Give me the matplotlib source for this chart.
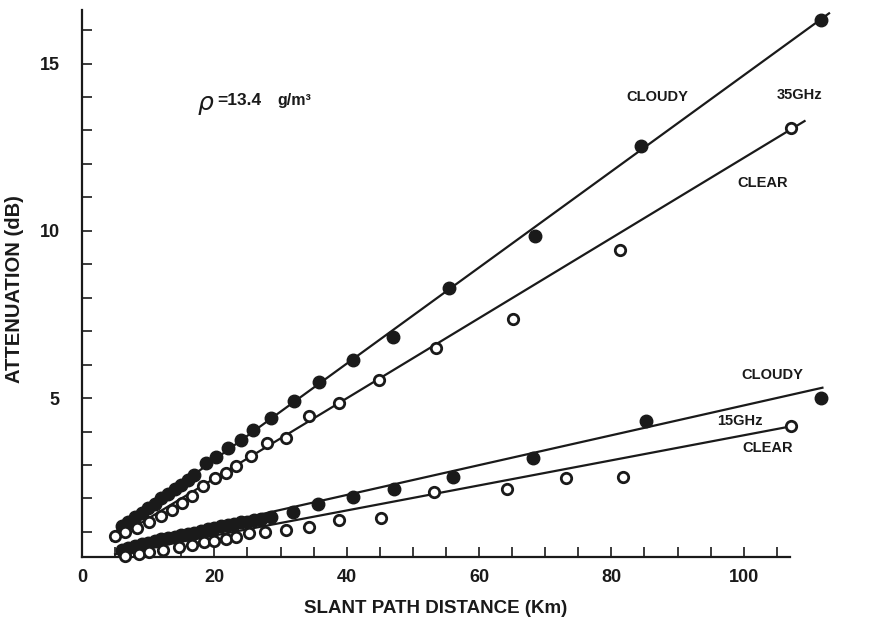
import matplotlib
matplotlib.use("Agg")
import matplotlib.pyplot as plt
from matplotlib.ticker import MultipleLocator, FixedLocator

plt.rcParams['font.family'] = ['Liberation Sans', 'DejaVu Sans']

# 35 GHz, cloudy (filled)
cloudy35_x = [6, 7, 8, 9, 10, 11, 12, 13, 14, 15, 16, 17, 18.8, 20.3, 22.1, 24.1, 25.9,
              28.6, 32.1, 35.8, 41, 47, 55.5, 68.5, 84.5, 111.7]
cloudy35_y = [1.18, 1.3, 1.44, 1.57, 1.72, 1.84, 2.0, 2.13, 2.28, 2.4, 2.56, 2.7, 3.07, 3.25,
              3.5, 3.76, 4.06, 4.4, 4.9, 5.49, 6.15, 6.84, 8.3, 9.85, 12.54, 16.3]
# 35 GHz, clear (open)
clear35_x = [5, 6.5, 8.3, 10.2, 12, 13.6, 15.1, 16.6, 18.3, 20.1, 21.8, 23.3, 25.5, 27.9,
             30.9, 34.3, 38.9, 44.9, 53.5, 65.1, 81.3, 107.2]
clear35_y = [0.88, 1.0, 1.13, 1.3, 1.48, 1.66, 1.86, 2.06, 2.38, 2.62, 2.77, 2.98, 3.28, 3.67,
             3.82, 4.45, 4.85, 5.55, 6.5, 7.37, 9.43, 13.07]
# 15 GHz, cloudy (filled)
cloudy15_x = [6, 7, 8, 9, 10, 11, 12, 13, 14, 15, 16, 17, 18, 19, 20, 21, 22, 23, 24, 25,
              26, 27, 28.6, 31.9, 35.7, 40.9, 47.1, 56, 68.2, 85.2, 111.7]
cloudy15_y = [0.47, 0.52, 0.57, 0.63, 0.67, 0.72, 0.78, 0.82, 0.85, 0.91, 0.95, 0.98, 1.04,
              1.08, 1.11, 1.17, 1.2, 1.23, 1.29, 1.31, 1.37, 1.4, 1.46, 1.61, 1.82, 2.03,
              2.27, 2.63, 3.22, 4.33, 5.01]
# 15 GHz, clear (open)
clear15_x = [6.5, 8.6, 10.2, 12.3, 14.6, 16.6, 18.5, 20, 21.7, 23.3, 25.3, 27.6, 30.9, 34.3,
             38.9, 45.2, 53.2, 64.3, 73.2, 81.8, 107.2]
clear15_y = [0.27, 0.33, 0.39, 0.45, 0.55, 0.6, 0.69, 0.72, 0.78, 0.84, 0.96, 0.99, 1.07, 1.16,
             1.35, 1.43, 2.18, 2.27, 2.6, 2.63, 4.18]

# fitted straight lines (end points)
fit_cloudy35_x = [4.5, 112.9]
fit_cloudy35_y = [0.93, 16.5]
fit_clear35_x = [4.5, 109.2]
fit_clear35_y = [0.74, 13.28]
fit_cloudy15_x = [5.6, 111.9]
fit_cloudy15_y = [0.57, 5.31]
fit_clear15_x = [5.0, 106.2]
fit_clear15_y = [0.33, 4.12]

x_major = [0, 20, 40, 60, 80, 100]
y_major = [5, 10, 15]

fig = plt.figure(figsize=(8.72, 6.17), dpi=100)
ax = fig.add_axes([82/872, 1-557/617, (790-82)/872, (557-10)/617])

lc = '#1a1a1a'
lw = 1.6
for fx, fy in [(fit_cloudy35_x, fit_cloudy35_y), (fit_clear35_x, fit_clear35_y),
               (fit_cloudy15_x, fit_cloudy15_y), (fit_clear15_x, fit_clear15_y)]:
    ax.plot(fx, fy, color=lc, lw=lw, clip_on=False, zorder=2)

ax.plot(cloudy35_x, cloudy35_y, 'o', ms=9, color=lc, mec=lc, clip_on=False, zorder=3)
ax.plot(cloudy15_x, cloudy15_y, 'o', ms=9, color=lc, mec=lc, clip_on=False, zorder=3)
ax.plot(clear35_x, clear35_y, 'o', ms=7.5, mfc='white', mec=lc, mew=2.0, clip_on=False, zorder=3)
ax.plot(clear15_x, clear15_y, 'o', ms=7.5, mfc='white', mec=lc, mew=2.0, clip_on=False, zorder=3)

ax.set_xlim(0, 107)
ax.set_ylim(0.25, 16.6)

for s in ['top', 'right']:
    ax.spines[s].set_visible(False)
for s in ['left', 'bottom']:
    ax.spines[s].set_linewidth(1.6)
    ax.spines[s].set_color(lc)

ax.xaxis.set_major_locator(FixedLocator(x_major))
ax.xaxis.set_minor_locator(MultipleLocator(5))
ax.yaxis.set_major_locator(FixedLocator(y_major))
ax.yaxis.set_minor_locator(MultipleLocator(1))
ax.tick_params(which='both', direction='in', length=7, width=1.2, color=lc)
ax.tick_params(axis='both', labelsize=13)
ax.tick_params(axis='x', pad=9)
ax.tick_params(axis='y', pad=16)
for lab in ax.get_xticklabels() + ax.get_yticklabels():
    lab.set_fontweight('bold')
    lab.set_color(lc)

ax.set_xlabel('SLANT PATH DISTANCE (Km)', fontsize=13.5, fontweight='bold', color=lc, labelpad=10)
ax.set_ylabel('ATTENUATION (dB)', fontsize=14.5, fontweight='bold', color=lc)
ax.yaxis.set_label_coords(-0.082, 0.49)

tk = dict(fontsize=10.5, fontweight='bold', color=lc, ha='center', va='center')
ax.text(87.0, 14.0, 'CLOUDY', **tk)
ax.text(108.4, 14.06, '35GHz', **tk)
ax.text(102.9, 11.43, 'CLEAR', **tk)
ax.text(104.4, 5.7, 'CLOUDY', **tk)
ax.text(99.4, 4.33, '15GHz', **tk)
ax.text(103.6, 3.52, 'CLEAR', **tk)

ax.text(18.6, 13.82, 'ρ', fontsize=18, style='italic', color=lc, ha='center', va='center',
        family=['DejaVu Sans'])
ax.text(20.4, 13.9, '=13.4', fontsize=12.5, fontweight='bold', color=lc, ha='left', va='center')
ax.text(29.6, 13.9, 'g/m³', fontsize=11.5, fontweight='bold', color=lc, ha='left', va='center')

fig.savefig('out.png', dpi=100)
